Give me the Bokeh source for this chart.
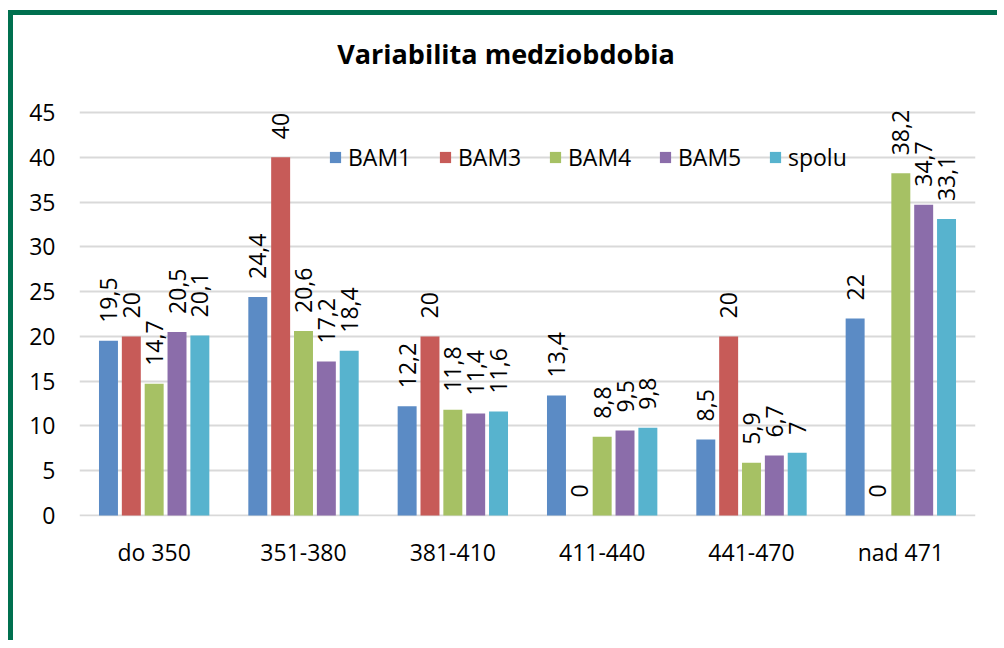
import math
from bokeh.plotting import figure
from bokeh.models import ColumnDataSource, Range1d, FactorRange, SingleIntervalTicker, Legend, LegendItem, Label
from bokeh.transform import dodge
from bokeh.core.properties import value
from bokeh.embed import file_html
from bokeh.resources import INLINE

categories = ["do 350", "351-380", "381-410", "411-440", "441-470", "nad 471"]
series_names = ["BAM1", "BAM3", "BAM4", "BAM5", "spolu"]
bam1 = [19.5, 24.4, 12.2, 13.4, 8.5, 22]
bam3 = [20, 40, 20, 0, 20, 0]
bam4 = [14.7, 20.6, 11.8, 8.8, 5.9, 38.2]
bam5 = [20.5, 17.2, 11.4, 9.5, 6.7, 34.7]
spolu = [20.1, 18.4, 11.6, 9.8, 7, 33.1]
series_values = [bam1, bam3, bam4, bam5, spolu]
colors = ["#5B8BC5", "#C75B58", "#A6C164", "#8B6DAA", "#57B3CE"]
y_min, y_max, y_ticks_interval = 0, 45, 5
title_text = "Variabilita medziobdobia"

FONT = "Open Sans"

# frame extends above the value axis so the title can sit inside it
p = figure(
    width=989, height=630,
    x_range=FactorRange(*categories, range_padding=0),
    y_range=Range1d(-0.11, 54.71),
    output_backend="svg", toolbar_location=None,
    min_border_left=66, min_border_right=27, min_border_top=10, min_border_bottom=129,
)
p.styles = {"border-left": "5px solid #00704F", "border-top": "5px solid #00704F",
            "margin-top": "10px", "margin-left": "8px"}
p.background_fill_color = "white"
p.border_fill_color = "white"
p.outline_line_color = None

title = Label(x=2.856, y=51.6, text=title_text,
              text_align="center", text_baseline="alphabetic",
              text_font=FONT, text_font_size="27px", text_font_style="bold", text_color="black")
p.add_layout(title)

p.xgrid.grid_line_color = None
p.ygrid.grid_line_color = "#D9D9D9"
p.ygrid.grid_line_width = 2
p.ygrid.bounds = (y_min - 0.01, y_max + 0.01)

p.yaxis.ticker = SingleIntervalTicker(interval=y_ticks_interval)
p.yaxis.bounds = (y_min - 0.01, y_max + 0.01)
for ax in (p.xaxis[0], p.yaxis[0]):
    ax.axis_line_color = None
    ax.major_tick_line_color = None
    ax.minor_tick_line_color = None
    ax.major_label_text_font = FONT
    ax.major_label_text_font_size = "23px"
    ax.major_label_text_color = "black"
p.yaxis.major_label_standoff = 18
p.xaxis.major_label_standoff = 13

step = 0.153
bw = 0.127
items = []
for i, (name, vals, col) in enumerate(zip(series_names, series_values, colors)):
    labels = [("%g" % v).replace(".", ",") for v in vals]
    src = ColumnDataSource(dict(cat=categories, val=vals, label=labels))
    off = (i - 2) * step
    r = p.vbar(x=dodge("cat", off, range=p.x_range), top="val", width=bw, source=src,
               fill_color=col, line_color=None)
    p.text(x=dodge("cat", off, range=p.x_range), y="val", text="label", source=src,
           angle=math.pi / 2, text_align="left", text_baseline="middle",
           y_offset=-18, text_font=value(FONT), text_font_size="23px", text_color="black")
    items.append(LegendItem(label=name, renderers=[r]))

legend = Legend(items=items, orientation="horizontal", location=(249, 343),
                padding=0, margin=0, spacing=10, glyph_width=14, glyph_height=14,
                label_standoff=6, label_width=80, label_height=32,
                label_text_font=FONT, label_text_font_size="23px", label_text_color="black",
                border_line_color=None, background_fill_alpha=0)
p.add_layout(legend)

open("out.html", "w").write(file_html(p, INLINE))
